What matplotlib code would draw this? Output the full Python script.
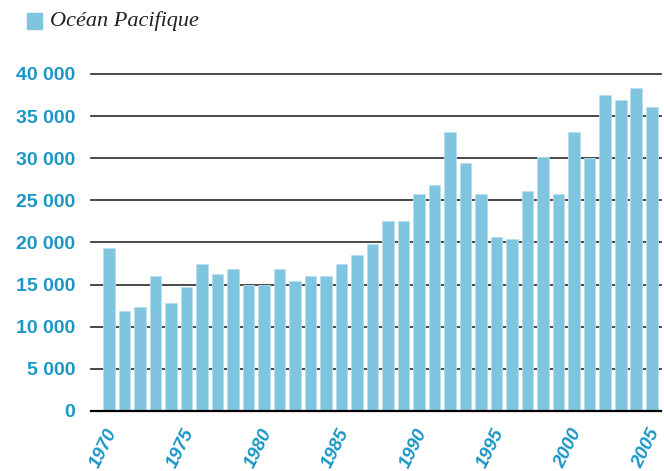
import matplotlib.pyplot as plt
from matplotlib.patches import Rectangle
from matplotlib.transforms import ScaledTranslation

years = list(range(1970, 2006))
values = [19400, 11900, 12400, 16000, 12800, 14700, 17500, 16300, 16900, 15000,
          15000, 16900, 15400, 16000, 16000, 17500, 18500, 19800, 22500, 22600,
          25800, 26800, 33100, 29400, 25800, 20600, 20400, 26100, 30200, 25800,
          33100, 30000, 37500, 36900, 38300, 36100]
yticks = [0, 5000, 10000, 15000, 20000, 25000, 30000, 35000, 40000]
ylabels = ["0", "5 000", "10 000", "15 000", "20 000", "25 000", "30 000", "35 000", "40 000"]
xticks = [1970, 1975, 1980, 1985, 1990, 1995, 2000, 2005]
legend_label = "Océan Pacifique"

bar_color = "#7fc5df"
label_color = "#1b97c6"

fig = plt.figure(figsize=(6.64, 4.71), dpi=100)
ax = fig.add_axes([0.1365, 0.1274, 0.859, 0.7155])

for y in yticks[1:]:
    ax.axhline(y, color="#3a3a3a", lw=1.3, zorder=1, clip_on=False)
ax.axhline(0, color="black", lw=1.6, zorder=3, clip_on=False)

ax.bar(years, values, width=0.75, color=bar_color, edgecolor="#b9dff0", linewidth=0.6, zorder=2)

ax.set_xlim(1968.82, 2005.6)
ax.set_ylim(0, 40000)
for s in ax.spines.values():
    s.set_visible(False)
ax.tick_params(length=0)

ax.set_yticks(yticks)
ax.set_yticklabels(ylabels, fontfamily="Liberation Sans", fontweight="bold",
                   fontsize=14, color=label_color)
ax.tick_params(axis="y", pad=11)

ax.set_xticks(xticks)
ax.set_xticklabels([str(x) for x in xticks], rotation=64, ha="right", va="top",
                   rotation_mode="anchor", fontfamily="Liberation Sans",
                   fontweight="bold", fontstyle="italic", fontsize=13.5, color=label_color)
ax.tick_params(axis="x", pad=11)
shift = ScaledTranslation(-4 / 100, 0, fig.dpi_scale_trans)
for lab in ax.get_xticklabels():
    lab.set_transform(lab.get_transform() + shift)

fig.patches.append(Rectangle((27 / 664, 1 - 29 / 471), 15 / 664, 16 / 471,
                             transform=fig.transFigure, color=bar_color))
fig.text(50 / 664, 1 - 21 / 471, legend_label, fontfamily="Liberation Serif",
         fontstyle="italic", fontsize=16, va="center", ha="left", color="#222222")

fig.savefig("out.png", dpi=100)
